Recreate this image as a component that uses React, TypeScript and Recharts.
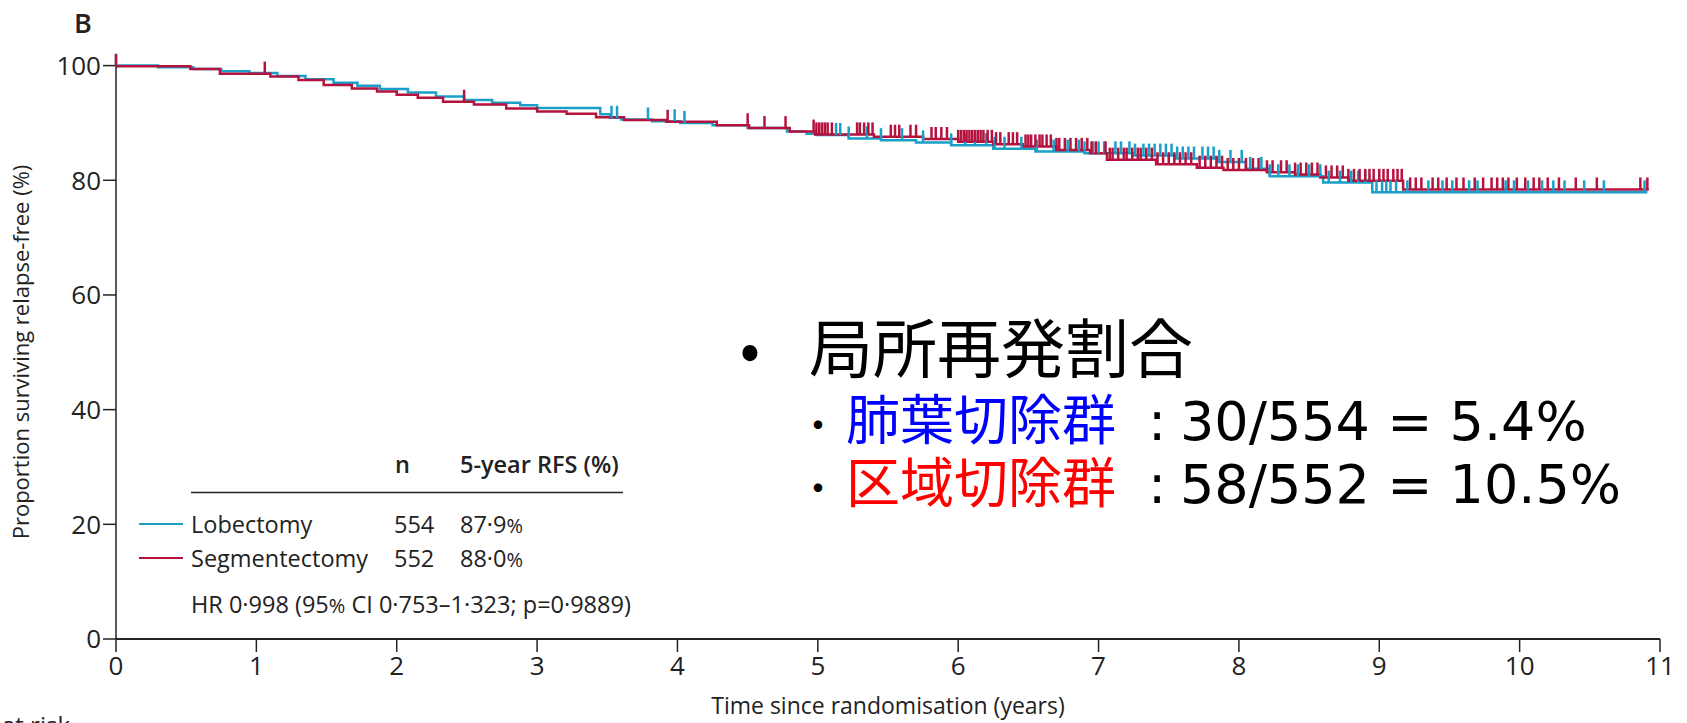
import React from "react";
import { ComposedChart, Line, Scatter, XAxis, YAxis, Customized } from "recharts";

const W = 1687;
const H = 723;

const LOB_COLOR = "#1a9fc8";
const SEG_COLOR = "#b5123e";
const INK = "#222222";
const FONT = "'Open Sans', 'Liberation Sans', sans-serif";
const CJK = "'Noto Sans CJK JP', sans-serif";
const NUM = "'DejaVu Sans', sans-serif";

const yearTicks = [0, 1, 2, 3, 4, 5, 6, 7, 8, 9, 10, 11];
const percentTicks = [0, 20, 40, 60, 80, 100];

// Kaplan-Meier steps: time (years) and relapse-free proportion (%)
const lobectomyTimes = [
  0, 0.3, 0.55, 0.75, 0.95, 1.15, 1.35, 1.55, 1.72, 1.88, 2.08, 2.28, 2.48, 2.68,
  2.88, 3.0, 3.45, 3.52, 3.6, 3.82, 4.02, 4.25, 4.5, 4.78, 4.92, 4.99, 5.22, 5.45,
  5.7, 5.95, 6.25, 6.55, 6.9, 7.25, 7.55, 7.85, 8.05, 8.22, 8.6, 8.95, 10.91,
];
const lobectomyRfs = [
  100, 99.7, 99.4, 99.0, 98.7, 98.2, 97.6, 97.0, 96.5, 95.9, 95.3, 94.6, 94.0, 93.5,
  93.1, 92.6, 91.5, 90.9, 90.6, 90.3, 90.0, 89.6, 89.1, 88.5, 88.1, 87.9, 87.3, 87.0,
  86.6, 86.1, 85.5, 85.0, 84.7, 84.3, 83.8, 83.2, 82.0, 80.7, 79.6, 77.9, 77.9,
];

const segmentectomyTimes = [
  0, 0.53, 0.74, 1.1, 1.3, 1.48, 1.68, 1.86, 2.0, 2.15, 2.33, 2.55, 2.78, 3.0, 3.21,
  3.42, 3.62, 3.92, 4.28, 4.51, 4.8, 4.98, 5.4, 5.75, 6.0, 6.25, 6.46, 6.7, 6.94,
  7.06, 7.41, 7.7, 7.89, 8.2, 8.4, 8.58, 8.78, 9.17, 10.92,
];
const segmentectomyRfs = [
  99.9, 99.4, 98.6, 98.1, 97.5, 96.6, 96.0, 95.5, 94.9, 94.4, 93.7, 93.2, 92.5, 92.0,
  91.6, 91.0, 90.5, 90.2, 89.6, 89.1, 88.5, 88.0, 87.6, 87.2, 86.7, 86.3, 85.9, 85.3,
  84.7, 83.6, 82.8, 82.2, 81.8, 81.4, 81.0, 80.5, 79.9, 78.4, 78.4,
];

// Censoring times (years)
const lobectomyCensorTimes = [
  0.0, 3.53, 3.57, 3.79, 3.98, 4.05, 5.13, 5.16, 5.22, 5.35, 5.45, 5.6, 5.75, 5.95,
  6.05, 6.12, 6.2, 6.26, 6.33, 6.45, 6.56, 6.68, 6.78, 6.86, 6.9, 6.96, 7.0, 7.04,
  7.12, 7.16, 7.22, 7.26, 7.32, 7.36, 7.4, 7.44, 7.48, 7.52, 7.56, 7.6, 7.64, 7.68,
  7.74, 7.78, 7.82, 7.86, 7.94, 8.02, 8.08, 8.16, 8.22, 8.28, 8.36, 8.42, 8.5, 8.58,
  8.64, 8.72, 8.8, 8.85, 8.9, 8.98, 9.02, 9.05, 9.08, 9.12, 9.2, 9.35, 9.45, 9.52,
  9.64, 9.7, 9.9, 9.96, 10.06, 10.16, 10.24, 10.32, 10.46, 10.6, 10.89,
];
const segmentectomyCensorTimes = [
  0.0, 1.06, 2.48, 3.93, 4.5, 4.62, 4.77, 4.97, 4.99, 5.01, 5.03, 5.05, 5.07, 5.1,
  5.28, 5.3, 5.33, 5.36, 5.39, 5.52, 5.55, 5.58, 5.66, 5.7, 5.81, 5.84, 5.88, 5.92,
  6.0, 6.02, 6.04, 6.06, 6.08, 6.1, 6.12, 6.14, 6.16, 6.18, 6.21, 6.24, 6.27, 6.3,
  6.36, 6.39, 6.42, 6.48, 6.5, 6.52, 6.55, 6.58, 6.6, 6.63, 6.66, 6.7, 6.72, 6.76,
  6.8, 6.84, 6.88, 6.92, 6.95, 6.98, 7.05, 7.08, 7.1, 7.14, 7.18, 7.2, 7.24, 7.28,
  7.3, 7.34, 7.38, 7.42, 7.46, 7.5, 7.54, 7.58, 7.62, 7.66, 7.72, 7.76, 7.8, 7.84,
  7.88, 7.92, 7.96, 8.0, 8.05, 8.1, 8.14, 8.2, 8.24, 8.3, 8.34, 8.4, 8.44, 8.48,
  8.52, 8.56, 8.62, 8.66, 8.7, 8.74, 8.78, 8.82, 8.86, 8.9, 8.93, 8.96, 9.0, 9.03,
  9.06, 9.1, 9.13, 9.16, 9.22, 9.26, 9.3, 9.38, 9.42, 9.48, 9.55, 9.6, 9.68, 9.74,
  9.8, 9.84, 9.88, 9.92, 9.98, 10.04, 10.1, 10.14, 10.2, 10.28, 10.4, 10.55, 10.86,
  10.91,
];

type Pt = { t: number; s: number };

const toSteps = (times: number[], values: number[]): Pt[] =>
  times.map((t, i) => ({ t, s: values[i] }));

const valueAt = (times: number[], values: number[], t: number): number => {
  let v = values[0];
  for (let i = 0; i < times.length; i++) {
    if (times[i] <= t) v = values[i];
    else break;
  }
  return v;
};

const toCensors = (times: number[], values: number[], censor: number[]): Pt[] =>
  censor.map((t) => ({ t, s: valueAt(times, values, t) }));

const lobSteps = toSteps(lobectomyTimes, lobectomyRfs);
const segSteps = toSteps(segmentectomyTimes, segmentectomyRfs);
const lobCensors = toCensors(lobectomyTimes, lobectomyRfs, lobectomyCensorTimes);
const segCensors = toCensors(segmentectomyTimes, segmentectomyRfs, segmentectomyCensorTimes);

const censorMark = (color: string) => (props: any) => {
  const { cx, cy } = props;
  if (cx == null || cy == null) return <g />;
  return <line x1={cx} x2={cx} y1={cy} y2={cy - 12} stroke={color} strokeWidth={2.5} />;
};

const Overlay = () => (
  <g>
    {/* panel letter */}
    <text x={74} y={33} fontFamily={FONT} fontSize={27} fontWeight={600} fill={INK}>B</text>

    {/* axis titles */}
    <text
      x={0}
      y={0}
      transform="translate(29,352) rotate(-90)"
      textAnchor="middle"
      fontFamily={FONT}
      fontSize={22}
      fill={INK}
    >
      Proportion surviving relapse-free (%)
    </text>
    <text x={888} y={714} textAnchor="middle" fontFamily={FONT} fontSize={23} fill={INK}>
      Time since randomisation (years)
    </text>
    <text x={70} y={734} textAnchor="end" fontFamily={FONT} fontSize={24} fill={INK}>
      Number at risk
    </text>

    {/* legend table */}
    <g fontFamily={FONT} fontSize={23.5} fill={INK}>
      <text x={395} y={473} fontWeight={600}>n</text>
      <text x={460} y={473} fontWeight={600}>5-year RFS (%)</text>
      <line x1={191} x2={623} y1={492.5} y2={492.5} stroke={INK} strokeWidth={1.5} />
      <line x1={139} x2={183} y1={524} y2={524} stroke={LOB_COLOR} strokeWidth={2} />
      <text x={191} y={533}>Lobectomy</text>
      <text x={394} y={533}>554</text>
      <text x={460} y={533}>87·9<tspan fontSize={20}>%</tspan></text>
      <line x1={139} x2={183} y1={558} y2={558} stroke={SEG_COLOR} strokeWidth={2} />
      <text x={191} y={567}>Segmentectomy</text>
      <text x={394} y={567}>552</text>
      <text x={460} y={567}>88·0<tspan fontSize={20}>%</tspan></text>
      <text x={191} y={613}>HR 0·998 (95<tspan fontSize={20}>%</tspan> CI 0·753–1·323; p=0·9889)</text>
    </g>

    {/* local recurrence summary */}
    <text x={750} y={371} textAnchor="middle" fontFamily={CJK} fontSize={60} fill="#000">•</text>
    <text x={809} y={372} fontFamily={CJK} fontSize={64} fill="#000">局所再発割合</text>

    <text x={818} y={440} textAnchor="middle" fontFamily={CJK} fontSize={40} fill="#000">・</text>
    <text x={846} y={440} fontFamily={CJK} fontSize={54} fill="#0000ff">肺葉切除群</text>
    <text x={1157} y={440} textAnchor="middle" fontFamily={NUM} fontSize={54} fill="#000">:</text>
    <text x={1180} y={440} fontFamily={NUM} fontSize={54} fill="#000">30/554 = 5.4%</text>

    <text x={818} y={503} textAnchor="middle" fontFamily={CJK} fontSize={40} fill="#000">・</text>
    <text x={846} y={503} fontFamily={CJK} fontSize={54} fill="#ff0000">区域切除群</text>
    <text x={1157} y={503} textAnchor="middle" fontFamily={NUM} fontSize={54} fill="#000">:</text>
    <text x={1180} y={503} fontFamily={NUM} fontSize={54} fill="#000">58/552 = 10.5%</text>
  </g>
);

export default function App() {
  return (
    <div style={{ position: "absolute", left: 0, top: 0, width: W, height: H, background: "#fff" }}>
      <ComposedChart width={W} height={H} margin={{ top: 65.6, right: 27, bottom: 54, left: 56 }}>
        <XAxis
          dataKey="t"
          type="number"
          domain={[0, 11]}
          ticks={yearTicks}
          interval={0}
          height={30}
          tickSize={13}
          tickMargin={5}
          axisLine={{ stroke: INK, strokeWidth: 2 }}
          tickLine={{ stroke: INK, strokeWidth: 1.5 }}
          tick={{ fill: INK, fontSize: 26, fontFamily: FONT }}
        />
        <YAxis
          type="number"
          domain={[0, 100]}
          ticks={percentTicks}
          interval={0}
          width={60}
          tickSize={13}
          tickMargin={2}
          axisLine={{ stroke: INK, strokeWidth: 1.5 }}
          tickLine={{ stroke: INK, strokeWidth: 1.5 }}
          tick={{ fill: INK, fontSize: 26, fontFamily: FONT }}
        />
        <Line
          data={lobSteps}
          dataKey="s"
          type="stepAfter"
          stroke={LOB_COLOR}
          strokeWidth={2.5}
          dot={false}
          activeDot={false}
          isAnimationActive={false}
        />
        <Line
          data={segSteps}
          dataKey="s"
          type="stepAfter"
          stroke={SEG_COLOR}
          strokeWidth={2.5}
          dot={false}
          activeDot={false}
          isAnimationActive={false}
        />
        <Scatter data={lobCensors} dataKey="s" shape={censorMark(LOB_COLOR)} isAnimationActive={false} />
        <Scatter data={segCensors} dataKey="s" shape={censorMark(SEG_COLOR)} isAnimationActive={false} />
        <Customized component={<Overlay />} />
      </ComposedChart>
    </div>
  );
}
